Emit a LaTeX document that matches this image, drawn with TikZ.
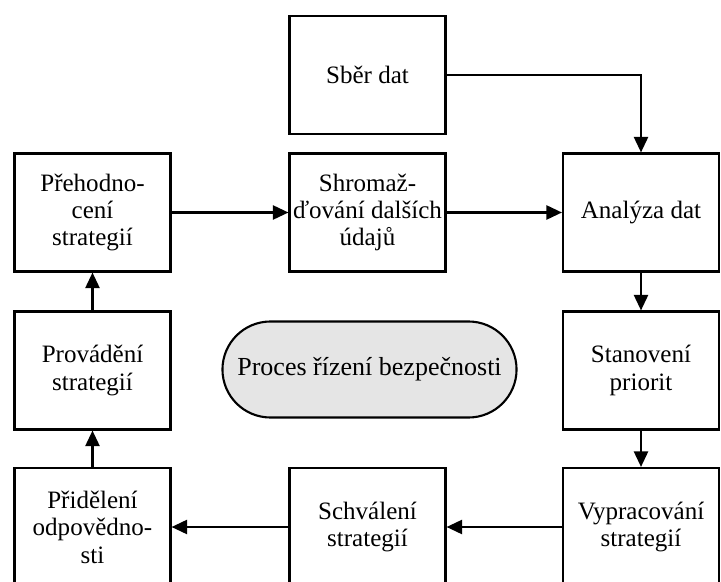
\documentclass[tikz,border=0pt]{standalone}
\usepackage{fontspec}
\setmainfont{Liberation Serif}
\usepackage{tikz}
\usetikzlibrary{arrows.meta}

\begin{document}
\begin{tikzpicture}[x=0.025cm,y=-0.025cm,->,>={Triangle[length=11pt,width=10pt]},line width=1.5pt,
  box/.style={draw,rectangle,minimum width=3.9cm,minimum height=2.95cm,align=center,inner sep=1pt,
    font=\fontsize{17.8}{19.5}\selectfont},
  core/.style={draw,rectangle,rounded corners=1.2cm,fill=black!10,minimum width=7.35cm,minimum height=2.4cm,
    font=\fontsize{18.5}{19.5}\selectfont}]
\useasboundingbox (0,0) rectangle (721,582);
\node[box] (sber)   at (367.5,75)    {Sběr dat};
\node[box] (prehod) at (92.5,212.5)  {Přehodno-\\cení\\strategií};
\node[box] (shrom)  at (367.5,212.5) {Shromaž-\\ďování dalších\\údajů};
\node[box] (anal)   at (641,212.5)   {Analýza dat};
\node[box] (provad) at (92.5,370.5)  {Provádění\\strategií};
\node[core] (proces) at (369.5,369.5) {Proces řízení bezpečnosti};
\node[box] (stanov) at (641,370.5)   {Stanovení\\priorit};
\node[box] (prid)   at (92.5,527)    {Přidělení\\odpovědno-\\sti};
\node[box] (schval) at (367.5,527)   {Schválení\\strategií};
\node[box] (vyprac) at (641,527)     {Vypracování\\strategií};
\draw (sber.east) -| (anal.north);
\draw (prehod) -- (shrom);
\draw (shrom) -- (anal);
\draw (anal) -- (stanov);
\draw (stanov) -- (vyprac);
\draw (vyprac) -- (schval);
\draw (schval) -- (prid);
\draw (prid) -- (provad);
\draw (provad) -- (prehod);
\end{tikzpicture}
\end{document}
